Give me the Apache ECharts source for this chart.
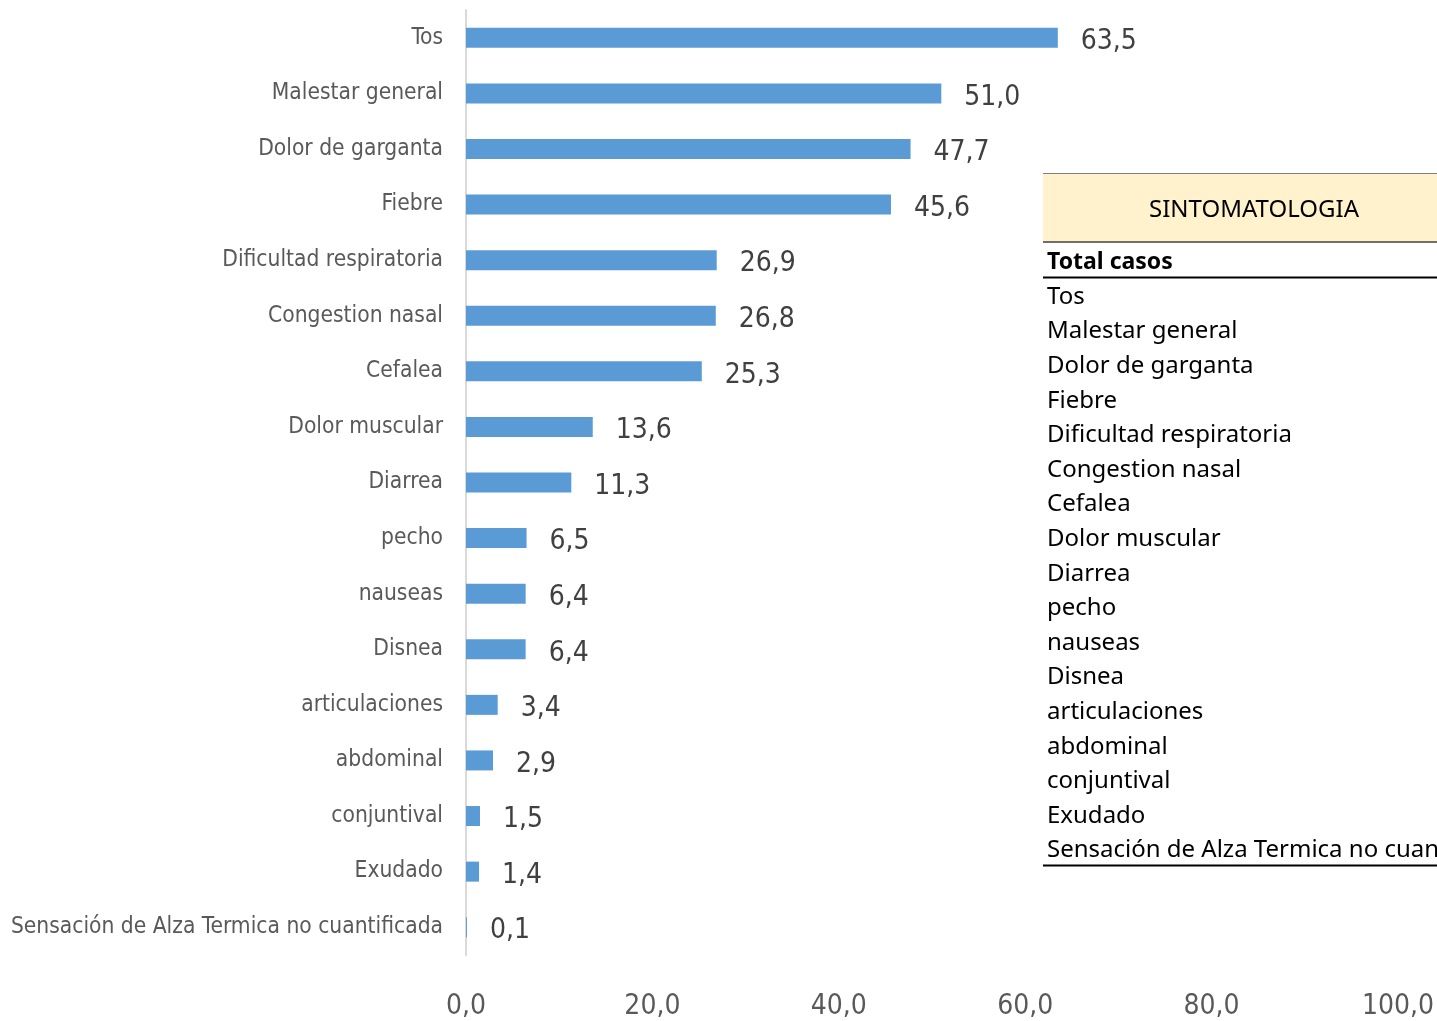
<!DOCTYPE html>
<html><head><meta charset="utf-8">
<script src="https://cdn.jsdelivr.net/npm/echarts@6/dist/echarts.min.js"></script>
<style>html,body{margin:0;padding:0;background:#fff}#c{width:1437px;height:1021px}</style>
</head><body><div id="c"></div>
<script>
const categories = ["Tos","Malestar general","Dolor de garganta","Fiebre","Dificultad respiratoria","Congestion nasal","Cefalea","Dolor muscular","Diarrea","pecho","nauseas","Disnea","articulaciones","abdominal","conjuntival","Exudado","Sensación de Alza Termica no cuantificada"];
const values = [63.5,51.0,47.7,45.6,26.9,26.8,25.3,13.6,11.3,6.5,6.4,6.4,3.4,2.9,1.5,1.4,0.1];
const tableTitle = "SINTOMATOLOGIA";
const tableHeader = "Total casos";
const tableRows = categories;

const catFont = '"DejaVu Sans Condensed","Liberation Sans Narrow",sans-serif';
const tabFont = '"Noto Sans","Liberation Sans",sans-serif';
const fmt = v => Number(v).toFixed(1).replace('.', ',');

const chart = echarts.init(document.getElementById('c'), null, {renderer:'canvas'});

const graphics = [];
graphics.push({type:'rect', shape:{x:1043,y:173,width:394,height:69}, style:{fill:'#fff2cc'}, z:10});
graphics.push({type:'line', shape:{x1:1043,y1:173.5,x2:1437,y2:173.5}, style:{stroke:'#7f7f7f',lineWidth:1}, z:11});
graphics.push({type:'line', shape:{x1:1043,y1:242,x2:1437,y2:242}, style:{stroke:'#404040',lineWidth:1.5}, z:11});
graphics.push({type:'text', x:1254, y:210, style:{text:tableTitle, font:'24px '+tabFont, fill:'#000', align:'center', verticalAlign:'middle'}, z:12});
graphics.push({type:'text', x:1047, y:262, style:{text:tableHeader, font:'bold 23px '+tabFont, fill:'#000', align:'left', verticalAlign:'middle'}, z:12});
graphics.push({type:'line', shape:{x1:1043,y1:277.5,x2:1437,y2:277.5}, style:{stroke:'#000',lineWidth:2}, z:11});
tableRows.forEach((t,i)=>{
  graphics.push({type:'text', x:1047, y:297+i*34.6, style:{text:t, font:'24px '+tabFont, fill:'#000', align:'left', verticalAlign:'middle'}, z:12});
});
graphics.push({type:'line', shape:{x1:1043,y1:865.5,x2:1437,y2:865.5}, style:{stroke:'#000',lineWidth:2}, z:11});

chart.setOption({
  animation:false,
  backgroundColor:'#ffffff',
  grid:{left:466, right:39, top:10, bottom:66, containLabel:false, outerBoundsMode:'none'},
  xAxis:{type:'value', min:0, max:100, interval:20,
    axisLine:{show:false}, axisTick:{show:false}, splitLine:{show:false},
    axisLabel:{formatter:fmt, color:'#595959', fontSize:28, fontFamily:catFont, margin:38}},
  yAxis:{type:'category', data:categories, inverse:true,
    axisLine:{show:true, lineStyle:{color:'#d9d9d9', width:2}}, axisTick:{show:false},
    axisLabel:{color:'#595959', fontSize:22.6, fontFamily:catFont, margin:23, padding:[4,0,0,0]}},
  series:[{type:'bar', data:values, barWidth:20, itemStyle:{color:'#5b9bd5'},
    label:{show:true, position:'right', distance:23, offset:[0,4], formatter:p=>fmt(p.value), color:'#404040', fontSize:28, fontFamily:catFont}}],
  graphic:graphics
});
</script></body></html>
